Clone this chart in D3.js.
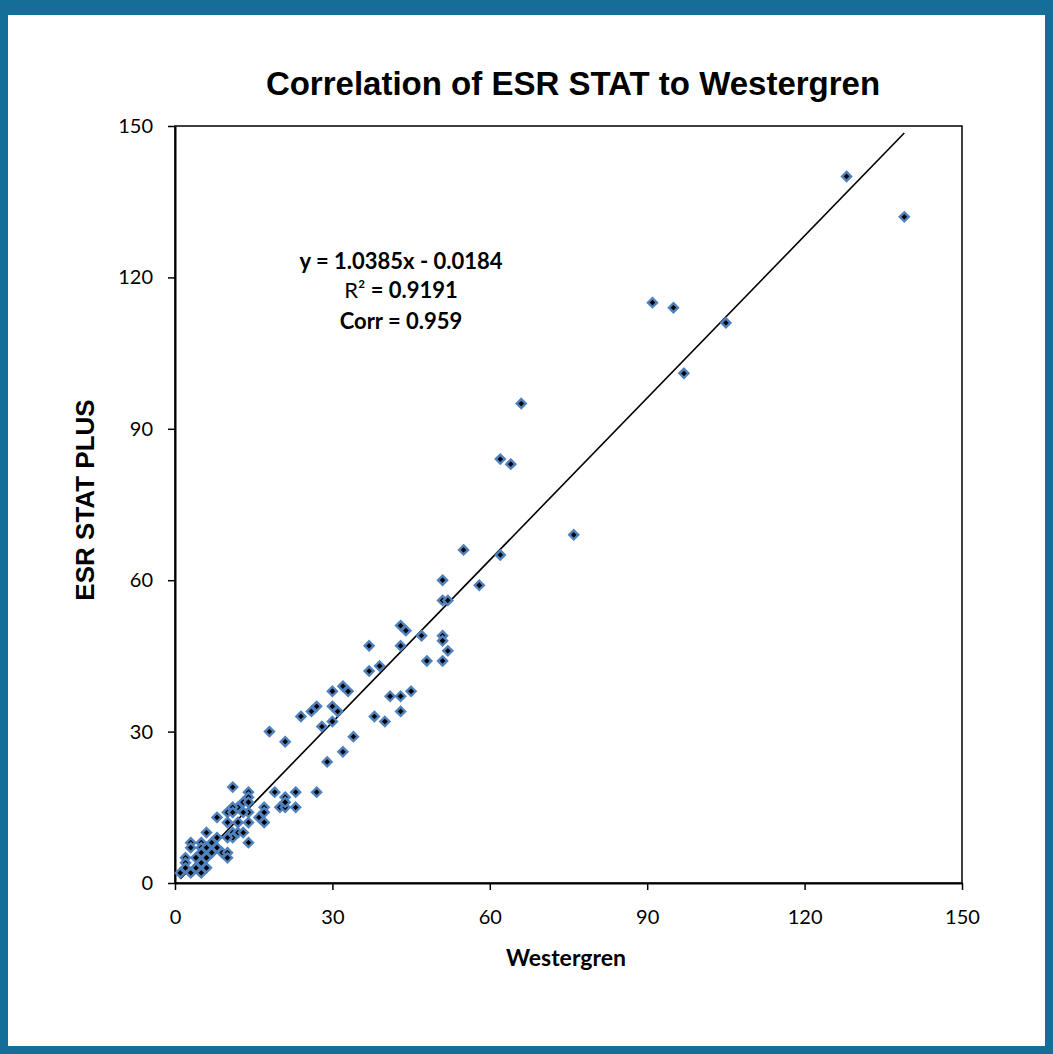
<!DOCTYPE html>
<html>
<head>
<meta charset="utf-8">
<script src="https://cdn.jsdelivr.net/npm/d3@7"></script>
<style>
  html, body { margin: 0; padding: 0; background: #ffffff; }
  svg { display: block; }
</style>
</head>
<body>
<svg id="chart" width="1053" height="1054"></svg>
<script>
// ---- Data ----
const westergren = [128,139,91,95,105,97,66,62,64,76,55,62,51,58,51,52,43,44,47,51,51,52,37,43,51,48,37,39,32,33,30,45,41,43,43,38,40,27,26,30,31,24,30,28,34,18,21,32,29,27,
  11,14,14,19,21,23,13,14,12,11,14,13,17,17,20,21,23,21,16,17,14,8,10,10,11,12,11,12,13,11,10,6,14,8,7,5,3,3,5,6,8,9,10,10,7,5,2,2,4,6,5,4,6,5,3,1,2];
const esrStatPlus = [140,132,115,114,111,101,95,84,83,69,66,65,60,59,56,56,51,50,49,49,48,46,47,47,44,44,42,43,39,38,38,38,37,37,34,33,32,35,34,35,34,33,32,31,29,30,28,26,24,18,
  19,18,17,18,17,18,16,16,15,15,14,14,15,14,15,15,15,16,13,12,12,13,12,14,14,12,10,10,10,9,9,10,8,9,8,8,8,7,7,7,7,6,6,5,6,6,5,4,5,5,4,3,3,2,2,2,3];
const trendX = [1, 139];
const trendY = [0.8, 148.6];
const xTicks = [0, 30, 60, 90, 120, 150];
const yTicks = [0, 30, 60, 90, 120, 150];
const titleText = "Correlation of ESR STAT to Westergren";
const xLabel = "Westergren";
const yLabel = "ESR STAT PLUS";
const eqLines = ["y = 1.0385x - 0.0184", "= 0.9191", "Corr = 0.959"];

// ---- Layout ----
const W = 1053, H = 1054;
const plot = { left: 175, right: 962, top: 126, bottom: 883 };
const svg = d3.select("#chart");

// outer frame
svg.append("rect").attr("x", 0).attr("y", 0).attr("width", W).attr("height", H).attr("fill", "#156e97");
svg.append("rect").attr("x", 8).attr("y", 15).attr("width", W - 16).attr("height", H - 23).attr("fill", "#ffffff");

const x = d3.scaleLinear().domain([0, 150]).range([plot.left, plot.right]);
const y = d3.scaleLinear().domain([0, 150]).range([plot.bottom, plot.top]);

// plot border
svg.append("rect")
  .attr("x", plot.left).attr("y", plot.top)
  .attr("width", plot.right - plot.left).attr("height", plot.bottom - plot.top)
  .attr("fill", "none").attr("stroke", "#000").attr("stroke-width", 1.5);

// axes
const yAxis = svg.append("g").attr("transform", `translate(${plot.left},0)`)
  .call(d3.axisLeft(y).tickValues(yTicks).tickSize(7).tickPadding(15).tickSizeOuter(0));
const xAxis = svg.append("g").attr("transform", `translate(0,${plot.bottom})`)
  .call(d3.axisBottom(x).tickValues(xTicks).tickSize(7).tickPadding(20).tickSizeOuter(0));
[xAxis, yAxis].forEach(g => {
  g.select(".domain").attr("stroke", "#000").attr("stroke-width", 2);
  g.selectAll(".tick line").attr("stroke", "#000").attr("stroke-width", 1.5);
  g.selectAll(".tick text").attr("fill", "#000")
    .style("font-family", "Lato, 'Open Sans', sans-serif").style("font-size", "20px");
});

// trend line
const line = d3.line().x(d => x(d[0])).y(d => y(d[1]));
svg.append("path")
  .datum(trendX.map((v, i) => [v, trendY[i]]))
  .attr("d", line).attr("fill", "none").attr("stroke", "#000").attr("stroke-width", 1.6);

// points (diamonds)
const r = 4.5;
svg.append("g").selectAll("path.pt")
  .data(westergren.map((v, i) => [v, esrStatPlus[i]]))
  .join("path")
  .attr("class", "pt")
  .attr("transform", d => `translate(${x(d[0])},${y(d[1])})`)
  .attr("d", `M0,${-r}L${r},0L0,${r}L${-r},0Z`)
  .attr("fill", "#000")
  .attr("stroke", "#4f81bd")
  .attr("stroke-width", 2.4);

// title
svg.append("text")
  .attr("x", 573).attr("y", 95)
  .attr("text-anchor", "middle")
  .style("font-family", "'Liberation Sans', Arial, sans-serif")
  .style("font-weight", "bold").style("font-size", "33px")
  .attr("fill", "#000")
  .text(titleText);

// x label
svg.append("text")
  .attr("x", 566).attr("y", 966)
  .attr("text-anchor", "middle")
  .style("font-family", "Lato, 'Open Sans', sans-serif")
  .style("font-weight", "bold").style("font-size", "23px")
  .attr("fill", "#000")
  .text(xLabel);

// y label
svg.append("text")
  .attr("transform", "translate(94,500) rotate(-90)")
  .attr("text-anchor", "middle")
  .style("font-family", "'Liberation Sans', Arial, sans-serif")
  .style("font-weight", "bold").style("font-size", "26px")
  .attr("fill", "#000")
  .text(yLabel);

// equation annotation
const eqFont = "Lato, 'Open Sans', sans-serif";
const eqX = 401;
svg.append("text").attr("x", eqX).attr("y", 269).attr("text-anchor", "middle")
  .style("font-family", eqFont).style("font-weight", "bold").style("font-size", "22px")
  .attr("fill", "#000").text(eqLines[0]);
const r2 = svg.append("text").attr("x", eqX).attr("y", 298).attr("text-anchor", "middle")
  .style("font-family", eqFont).style("font-size", "22px").attr("fill", "#000");
r2.append("tspan").text("R²");
r2.append("tspan").style("font-weight", "bold").text(" " + eqLines[1]);
svg.append("text").attr("x", eqX).attr("y", 329).attr("text-anchor", "middle")
  .style("font-family", eqFont).style("font-weight", "bold").style("font-size", "22px")
  .attr("fill", "#000").text(eqLines[2]);
</script>
</body>
</html>
